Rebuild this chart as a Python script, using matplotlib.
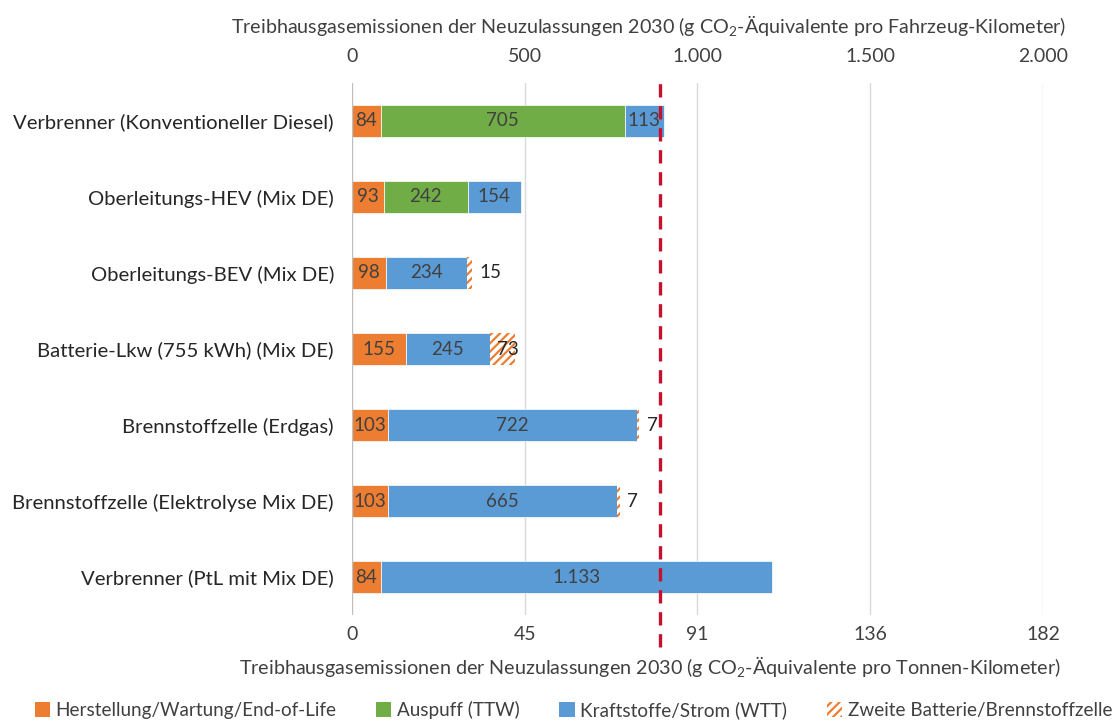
import matplotlib
matplotlib.use("Agg")
import matplotlib.pyplot as plt
from matplotlib.patches import Patch
import numpy as np

plt.rcParams["font.family"] = ["Lato", "DejaVu Sans"]
plt.rcParams["mathtext.fontset"] = "custom"
plt.rcParams["mathtext.rm"] = "Lato"
plt.rcParams["hatch.linewidth"] = 1.6

categories = [
    "Verbrenner (Konventioneller Diesel)",
    "Oberleitungs-HEV (Mix DE)",
    "Oberleitungs-BEV (Mix DE)",
    "Batterie-Lkw (755 kWh) (Mix DE)",
    "Brennstoffzelle (Erdgas)",
    "Brennstoffzelle (Elektrolyse Mix DE)",
    "Verbrenner (PtL mit Mix DE)",
]
herstellung = [84, 93, 98, 155, 103, 103, 84]
auspuff = [705, 242, 0, 0, 0, 0, 0]
kraftstoffe = [113, 154, 234, 245, 722, 665, 1133]
zweite_batterie = [0, 0, 15, 73, 7, 7, 0]

series_names = [
    "Herstellung/Wartung/End-of-Life",
    "Auspuff (TTW)",
    "Kraftstoffe/Strom (WTT)",
    "Zweite Batterie/Brennstoffzelle",
]
top_ticks = [0, 500, 1000, 1500, 2000]
payload_t = 11  # tonnes per vehicle, converts vehicle-km to tonne-km
reference_line = 893

ORANGE = "#ED7D31"
GREEN = "#70AD47"
BLUE = "#5B9BD5"
RED = "#C8102E"
TXT = "#404040"


def de_fmt(v):
    return f"{v:,.0f}".replace(",", ".")


fig = plt.figure(figsize=(11.18, 7.21), dpi=100)
ax = fig.add_axes([0.3148, 0.147, 0.6181, 0.7379])

y = np.arange(len(categories))
h = 0.41
left = np.zeros(len(categories))
solid = [(herstellung, ORANGE), (auspuff, GREEN), (kraftstoffe, BLUE)]
for vals, col in solid:
    vals = np.array(vals, dtype=float)
    ax.barh(y, vals, left=left, height=h, color=col, edgecolor="white",
            linewidth=0.5, zorder=3)
    for yi, (l, v) in enumerate(zip(left, vals)):
        if v > 0:
            ax.text(l + v / 2, yi, de_fmt(v), ha="center", va="center",
                    fontsize=13.5, color=TXT, zorder=5)
    left = left + vals

zb = np.array(zweite_batterie, dtype=float)
ax.barh(y, zb, left=left, height=h, color="white", edgecolor=ORANGE,
        hatch="////", linewidth=0, zorder=3)
for yi, (l, v) in enumerate(zip(left, zb)):
    if v <= 0:
        continue
    if v >= 50:
        ax.text(l + v / 2 + 15, yi, de_fmt(v), ha="center", va="center",
                fontsize=13.5, color="#262626", zorder=5)
    else:
        ax.text(l + v + 22, yi, de_fmt(v), ha="left", va="center",
                fontsize=13.5, color="#262626", zorder=5)

ax.set_xlim(0, 2000)
ax.set_ylim(len(categories) - 0.5, -0.5)

for t in top_ticks[1:]:
    ax.axvline(t, color="#D9D9D9", lw=1, zorder=1)
ax.axvline(0, color="#BFBFBF", lw=1, zorder=4)

ax.axvline(reference_line, ymin=-0.06, ymax=1.01, color=RED, lw=2.4,
           linestyle=(0, (4, 2.6)), zorder=6, clip_on=False)

for s in ax.spines.values():
    s.set_visible(False)

ax.set_yticks(y, categories)
ax.tick_params(axis="y", length=0, pad=13, labelsize=14.6, labelcolor="#262626")

ax.xaxis.tick_top()
ax.xaxis.set_label_position("top")
ax.set_xticks(top_ticks, [de_fmt(t) for t in top_ticks])
ax.tick_params(axis="x", length=0, pad=13, labelsize=14, labelcolor=TXT)
ax.set_xlabel("Treibhausgasemissionen der Neuzulassungen 2030 (g CO$_\\mathrm{2}$-Äquivalente pro Fahrzeug-Kilometer)",
              fontsize=14.2, color=TXT, labelpad=10)
ax.xaxis.label.set_x(0.429)

sec = ax.secondary_xaxis("bottom")
sec.set_xticks(top_ticks, [f"{t / payload_t:.0f}" for t in top_ticks])
sec.tick_params(length=0, pad=8, labelsize=14, labelcolor=TXT)
for s in sec.spines.values():
    s.set_visible(False)
sec.set_xlabel("Treibhausgasemissionen der Neuzulassungen 2030 (g CO$_\\mathrm{2}$-Äquivalente pro Tonnen-Kilometer)",
               fontsize=14.2, color=TXT, labelpad=8)
sec.xaxis.label.set_x(0.431)

handles = [
    Patch(facecolor=ORANGE, edgecolor="none"),
    Patch(facecolor=GREEN, edgecolor="none"),
    Patch(facecolor=BLUE, edgecolor="none"),
    Patch(facecolor="white", edgecolor=ORANGE, hatch="////", linewidth=0),
]
fig.legend(handles, series_names, loc="center", bbox_to_anchor=(0.513, 0.015),
           ncol=4, frameon=False, fontsize=13.6, handlelength=0.8,
           handleheight=0.8, handletextpad=0.3, columnspacing=2.1,
           labelcolor=TXT)

fig.savefig("out.png", dpi=100, facecolor="white")
